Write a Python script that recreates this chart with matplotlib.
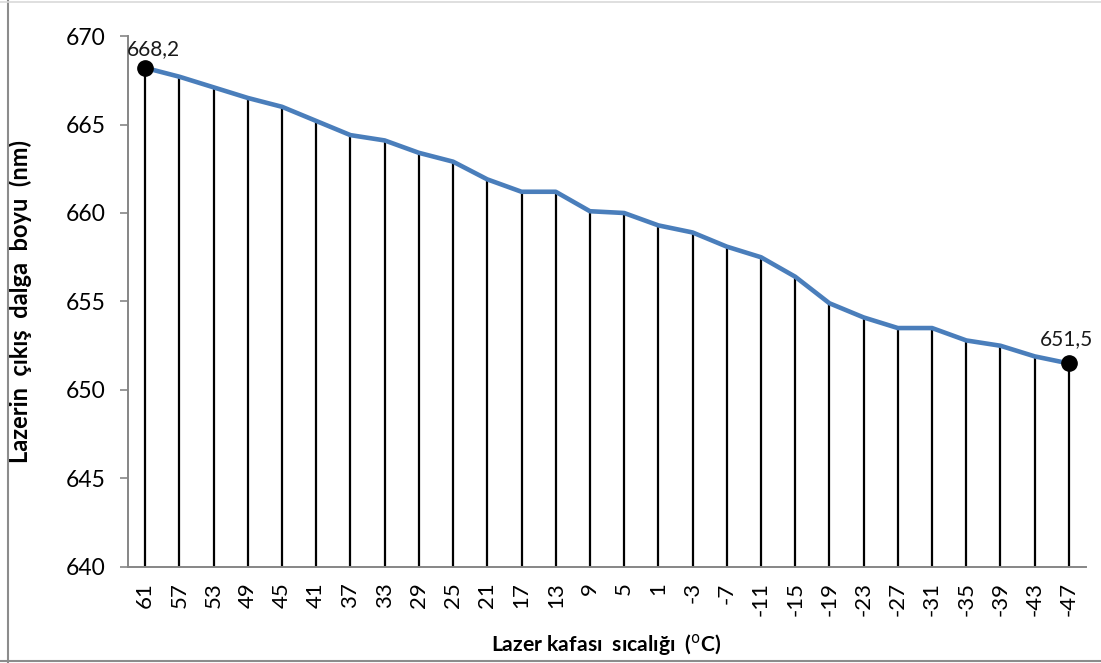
import matplotlib
matplotlib.use("Agg")
import matplotlib.pyplot as plt
from matplotlib.lines import Line2D

# Laser head temperature (°C) and output wavelength (nm)
temperatures = [61, 57, 53, 49, 45, 41, 37, 33, 29, 25, 21, 17, 13, 9, 5, 1,
                -3, -7, -11, -15, -19, -23, -27, -31, -35, -39, -43, -47]
wavelengths = [668.2, 667.7, 667.1, 666.5, 666.0, 665.2, 664.4, 664.1, 663.4,
               662.9, 661.9, 661.2, 661.2, 660.1, 660.0, 659.3, 658.9, 658.1,
               657.5, 656.4, 654.9, 654.1, 653.5, 653.5, 652.8, 652.5, 651.9,
               651.5]
y_ticks = [640, 645, 650, 655, 660, 665, 670]

plt.rcParams["font.family"] = ["Lato", "DejaVu Sans"]

fig = plt.figure(figsize=(11.01, 6.63), dpi=100)
ax = fig.add_axes([0.1163, 0.1448, 0.8701, 0.8009])

x = list(range(len(temperatures)))
ymin, ymax = y_ticks[0], y_ticks[-1]

# drop lines from each point to the category axis
ax.vlines(x, ymin, wavelengths, colors="black", linewidth=1.6, zorder=2)
ax.plot(x, wavelengths, color="#4A7EBB", linewidth=3.3, solid_joinstyle="round",
        zorder=3)

# highlighted end points with value labels
for i, dx, dy in [(0, 8, 9), (len(x) - 1, -2, 14)]:
    ax.plot(x[i], wavelengths[i], "o", color="black", markersize=11, zorder=4)
    ax.annotate(f"{wavelengths[i]:.1f}".replace(".", ","), (x[i], wavelengths[i]),
                xytext=(dx, dy), textcoords="offset pixels", ha="center",
                va="bottom", fontsize=15, color="#1a1a1a", zorder=5)

ax.set_xlim(-0.5, len(x) - 0.5)
ax.set_ylim(ymin, ymax)
ax.set_yticks(y_ticks)
ax.set_xticks(x)
ax.set_xticklabels([str(t) for t in temperatures], rotation=90, fontsize=16)
ax.tick_params(axis="x", length=0, pad=11)
ax.tick_params(axis="y", length=6, width=1.2, color="#868686", pad=10,
               labelsize=16.5)

for side in ("top", "right"):
    ax.spines[side].set_visible(False)
for side in ("left", "bottom"):
    ax.spines[side].set_color("#868686")
    ax.spines[side].set_linewidth(1.4)

ax.set_ylabel("Lazerin  çıkış  dalga  boyu  (nm)", fontsize=17, fontweight="bold")
ax.yaxis.set_label_coords(-0.1, 0.5)
ax.set_xlabel(r"Lazer kafası  sıcalığı  ($^{\mathrm{o}}$C)", fontsize=15.2,
              fontweight="bold")
ax.xaxis.set_label_coords(0.499, -0.122)

# chart frame
fig.add_artist(Line2D([8 / 1101, 8 / 1101], [0, 1], color="#8c8c8c",
                      linewidth=1.5, transform=fig.transFigure))
fig.add_artist(Line2D([0, 1], [2 / 663, 2 / 663], color="#8c8c8c",
                      linewidth=1.5, transform=fig.transFigure))
fig.add_artist(Line2D([0, 1], [1 - 1.5 / 663, 1 - 1.5 / 663], color="#d9d9d9",
                      linewidth=1.2, transform=fig.transFigure))

fig.savefig("out.png", dpi=100)
